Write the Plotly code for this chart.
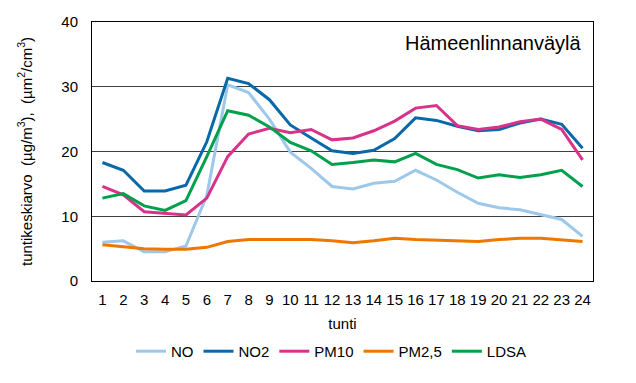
import plotly.graph_objects as go

hours = [str(h) for h in range(1, 25)]
NO = [6.0, 6.2, 4.5, 4.5, 5.4, 13.2, 30.3, 29.1, 25.0, 19.9, 17.4, 14.6, 14.2, 15.1, 15.4, 17.1, 15.6, 13.7, 12.0, 11.3, 11.0, 10.3, 9.5, 6.9]
NO2 = [18.3, 17.1, 13.9, 13.9, 14.8, 21.5, 31.3, 30.5, 28.0, 24.1, 22.1, 20.1, 19.7, 20.2, 22.0, 25.2, 24.8, 23.9, 23.2, 23.4, 24.4, 25.0, 24.2, 20.5]
PM10 = [14.6, 13.3, 10.7, 10.4, 10.2, 12.8, 19.2, 22.7, 23.6, 22.9, 23.4, 21.8, 22.1, 23.2, 24.7, 26.7, 27.1, 24.0, 23.4, 23.8, 24.6, 25.0, 23.4, 18.7]
PM25 = [5.6, 5.3, 5.0, 4.9, 4.9, 5.2, 6.1, 6.4, 6.4, 6.4, 6.4, 6.2, 5.9, 6.2, 6.6, 6.4, 6.3, 6.1, 6.1, 6.4, 6.6, 6.6, 6.4, 6.1]
LDSA = [12.8, 13.5, 11.6, 10.9, 12.4, 19.2, 26.3, 25.6, 23.8, 21.4, 20.1, 18.0, 18.3, 18.7, 18.4, 19.7, 18.0, 17.2, 15.9, 16.4, 16.0, 16.4, 17.1, 14.6]

series = [
    ("NO", NO, "#9DC8EA"),
    ("NO2", NO2, "#0868A8"),
    ("PM10", PM10, "#D8338A"),
    ("PM2,5", PM25, "#EE7700"),
    ("LDSA", LDSA, "#00A04C"),
]

fig = go.Figure()
for name, vals, col in series:
    fig.add_trace(go.Scatter(x=hours, y=vals, name=name, mode="lines",
                             line=dict(color=col, width=3)))

font = "Liberation Sans, Arial, sans-serif"
fig.update_layout(
    width=628, height=375,
    margin=dict(l=84, r=43, t=14, b=102, autoexpand=False),
    paper_bgcolor="white", plot_bgcolor="white",
    font=dict(family=font, size=15, color="black"),
    showlegend=True,
    legend=dict(orientation="h", x=0.478, xanchor="center", y=-0.272, yanchor="middle",
                font=dict(size=15), itemwidth=30, tracegroupgap=0),
    annotations=[dict(text="Hämeenlinnanväylä", x=0.982, y=0.918, xref="paper", yref="paper",
                      xanchor="right", yanchor="middle", showarrow=False,
                      font=dict(size=20, family=font, color="black"))],
)
fig.update_xaxes(type="category", range=[-0.5, 23.5], showgrid=False, automargin=False,
                 showline=True, linecolor="black", linewidth=1, mirror=True,
                 ticks="", tickfont=dict(size=15), ticklabelstandoff=5,
                 title=dict(text="tunti", font=dict(size=15), standoff=11))
fig.update_yaxes(range=[0, 40], dtick=10, showgrid=True, gridcolor="#404040", gridwidth=1,
                 showline=True, linecolor="black", linewidth=1, mirror=True, automargin=False,
                 ticks="", tickfont=dict(size=15), zeroline=False, ticklabelstandoff=10,
                 title=dict(text="tuntikeskiarvo  (µg/m<sup>3</sup>),  (µm<sup>2</sup>/cm<sup>3</sup>)",
                            font=dict(size=15), standoff=25))

fig.write_html("out.html")
